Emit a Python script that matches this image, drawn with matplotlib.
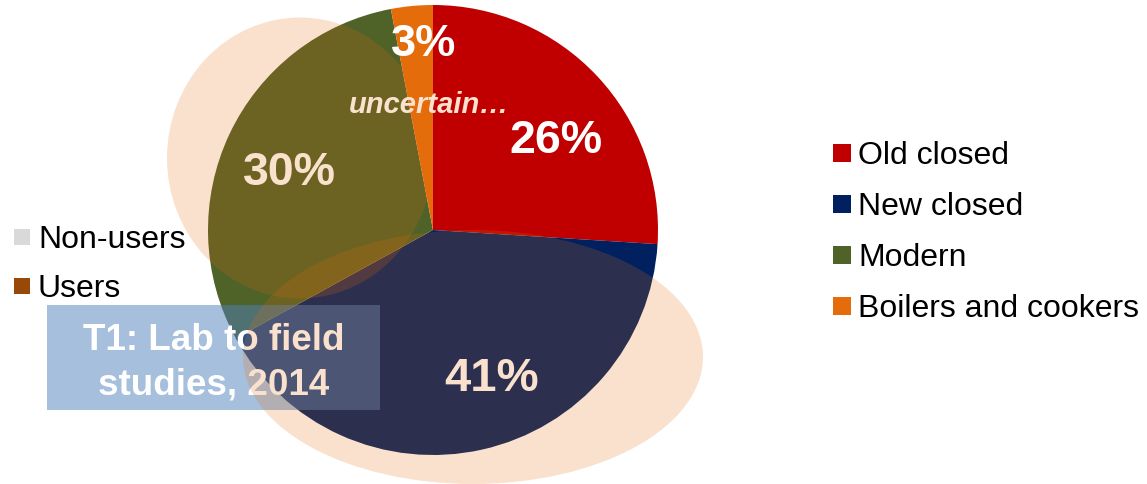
import matplotlib
matplotlib.use("Agg")
import matplotlib.pyplot as plt
from matplotlib.patches import Ellipse, Rectangle

W, H = 1147, 484

stove_types = ["Old closed", "New closed", "Modern", "Boilers and cookers"]
shares = [26, 41, 30, 3]
stove_colors = ["#C00000", "#002060", "#4F6228", "#E46C0A"]

user_groups = ["Non-users", "Users"]
user_colors = ["#D9D9D9", "#984807"]

box_lines = ["T1: Lab to field", "studies, 2014"]
note = "uncertain\u2026"

plt.rcParams["font.family"] = ["Liberation Sans", "DejaVu Sans"]

fig = plt.figure(figsize=(W / 100, H / 100), dpi=100)
ax = fig.add_axes([0, 0, 1, 1])

# pie, clockwise from 12 o'clock
cx, cy, r = 433, H - 230, 225
ax.pie(shares, colors=stove_colors, startangle=90, counterclock=False,
       center=(cx, cy), radius=r, wedgeprops=dict(linewidth=0))
ax.set_xlim(0, W)
ax.set_ylim(0, H)
ax.set_aspect("equal")
ax.axis("off")

# percentage labels
label_pos = [(556, H - 141), (492, H - 379), (289, H - 173), (424, H - 44)]
label_size = [33.5, 34, 33.5, 32.5]
for v, (x, y), s in zip(shares, label_pos, label_size):
    ax.text(x, y, f"{v}%", color="white", fontsize=s, fontweight="bold",
            ha="center", va="center", zorder=4)

# title box
ax.add_patch(Rectangle((47, H - 410), 333, 105, facecolor="#4F81BD",
                       alpha=0.5, linewidth=0, zorder=3))
for i, line in enumerate(box_lines):
    ax.text(214, H - 341 - 44 * i, line, color="white", fontsize=26.5,
            fontweight="bold", ha="center", va="center", zorder=4)

# translucent highlight ellipses
ax.add_patch(Ellipse((300, H - 158), 266, 281, angle=0, facecolor="#E46C0A",
                     alpha=0.2, linewidth=0, zorder=5))
ax.add_patch(Ellipse((473, H - 357), 460, 254, angle=0, facecolor="#E46C0A",
                     alpha=0.2, linewidth=0, zorder=5))

ax.text(429, H - 105, note, color="#FAE2CF", fontsize=21, fontweight="bold",
        fontstyle="italic", ha="center", va="center", zorder=6)

# legends
sq = 18
for i, (name, col) in enumerate(zip(stove_types, stove_colors)):
    y = H - (153 + 51 * i)
    ax.add_patch(Rectangle((833, y - sq / 2), sq, sq, facecolor=col,
                           linewidth=0, zorder=6))
    ax.text(858, y - 3, name, fontsize=23, ha="left", va="center",
            color="black", zorder=6)

for i, (name, col) in enumerate(zip(user_groups, user_colors)):
    y = H - (237 + 49 * i)
    ax.add_patch(Rectangle((14, y - 8), 16, 16, facecolor=col,
                           linewidth=0, zorder=6))
    ax.text(38, y - 3, name, fontsize=23, ha="left", va="center",
            color="black", zorder=6)

fig.savefig("out.png", dpi=100)
